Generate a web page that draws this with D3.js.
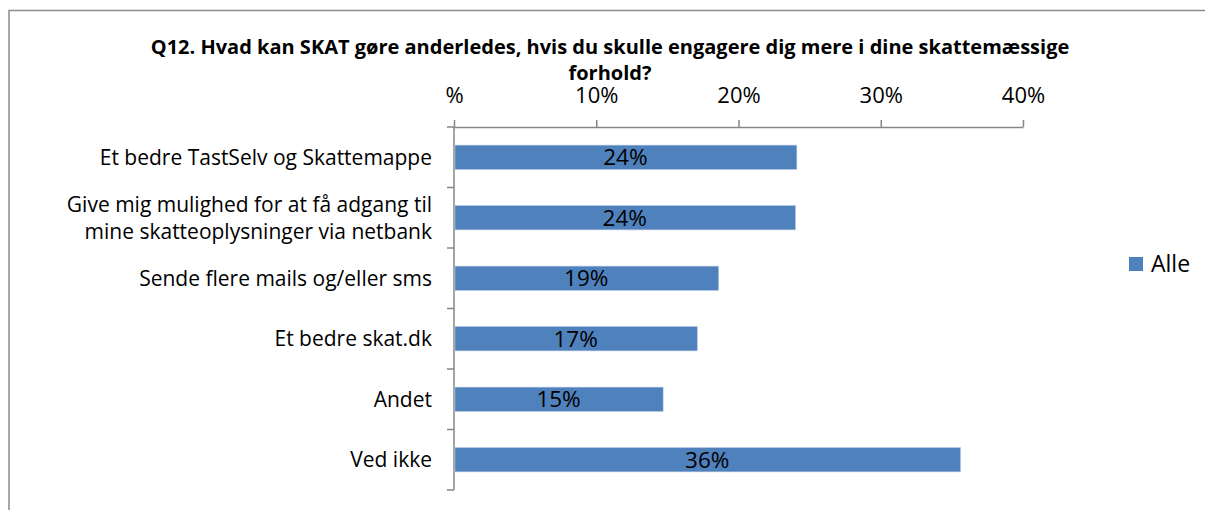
<!DOCTYPE html>
<html>
<head>
<meta charset="utf-8">
<script src="https://cdn.jsdelivr.net/npm/d3@7/dist/d3.min.js"></script>
<style>
  html, body { margin: 0; padding: 0; background: #fff; }
  svg { display: block; font-family: "Open Sans", Lato, sans-serif; }
</style>
</head>
<body>
<svg id="chart" width="1205" height="510"></svg>
<script>
const titleLines = ["Q12. Hvad kan SKAT gøre anderledes, hvis du skulle engagere dig mere i dine skattemæssige", "forhold?"];
const categories = [
  "Et bedre TastSelv og Skattemappe",
  "Give mig mulighed for at få adgang til mine skatteoplysninger via netbank",
  "Sende flere mails og/eller sms",
  "Et bedre skat.dk",
  "Andet",
  "Ved ikke"
];
const categoryLines = [
  ["Et bedre TastSelv og Skattemappe"],
  ["Give mig mulighed for at få adgang til", "mine skatteoplysninger via netbank"],
  ["Sende flere mails og/eller sms"],
  ["Et bedre skat.dk"],
  ["Andet"],
  ["Ved ikke"]
];
const values = [24.1, 24.0, 18.6, 17.1, 14.7, 35.6];
const valueLabels = ["24%", "24%", "19%", "17%", "15%", "36%"];
const tickValues = [0, 10, 20, 30, 40];
const tickLabels = ["%", "10%", "20%", "30%", "40%"];
const seriesName = "Alle";

const svg = d3.select("#chart");
const barColor = "#4F81BD";
const axisColor = "#868686";

// chart frame
svg.append("rect")
  .attr("x", 9).attr("y", 10.5)
  .attr("width", 1260).attr("height", 560)
  .attr("fill", "none").attr("stroke", "#8c8c8c").attr("stroke-width", 1.5);

// title
const title = svg.append("text")
  .attr("x", 610).attr("y", 54)
  .attr("text-anchor", "middle")
  .attr("font-weight", "bold")
  .attr("font-size", 20)
  .attr("fill", "#000");
title.selectAll("tspan").data(titleLines).join("tspan")
  .attr("x", 610)
  .attr("dy", (d, i) => i === 0 ? 0 : 26)
  .text(d => d);

const x = d3.scaleLinear().domain([0, 40]).range([454, 1023]);
const y = d3.scaleBand().domain(categories).range([127, 490])
  .paddingInner(0.6).paddingOuter(0.3);

// top axis
const xAxis = d3.axisTop(x)
  .tickValues(tickValues)
  .tickFormat((d, i) => tickLabels[i])
  .tickSizeInner(7).tickSizeOuter(0).tickPadding(17);
const gx = svg.append("g").attr("transform", `translate(0,${y.range()[0]})`).call(xAxis);
gx.select(".domain").attr("stroke", axisColor).attr("stroke-width", 1.5);
gx.selectAll(".tick line").attr("stroke", axisColor).attr("stroke-width", 1.5);
gx.selectAll(".tick text").attr("font-size", 22).attr("fill", "#000")
  .attr("font-family", "'Open Sans', sans-serif");

// left axis: line + ticks at band boundaries
const y0 = y.range()[0], y1 = y.range()[1];
svg.append("line")
  .attr("x1", x(0)).attr("x2", x(0)).attr("y1", y0).attr("y2", y1)
  .attr("stroke", axisColor).attr("stroke-width", 1.5);
const boundaries = d3.range(categories.length + 1).map(i => y0 + i * y.step());
svg.selectAll("line.ytick").data(boundaries).join("line")
  .attr("class", "ytick")
  .attr("x1", x(0) - 7).attr("x2", x(0))
  .attr("y1", d => d).attr("y2", d => d)
  .attr("stroke", axisColor).attr("stroke-width", 1.5);

// category labels
const catG = svg.append("g");
categories.forEach((c, i) => {
  const lines = categoryLines[i];
  const cy = y(c) + y.bandwidth() / 2;
  const lh = 27;
  const t = catG.append("text")
    .attr("text-anchor", "end")
    .attr("font-size", 21)
    .attr("fill", "#000");
  lines.forEach((l, j) => {
    t.append("tspan")
      .attr("x", x(0) - 22)
      .attr("y", cy + (j - (lines.length - 1) / 2) * lh)
      .attr("dy", "0.35em")
      .text(l);
  });
});

// bars
svg.selectAll("rect.bar").data(values).join("rect")
  .attr("class", "bar")
  .attr("x", x(0) + 1)
  .attr("y", (d, i) => y(categories[i]))
  .attr("width", d => x(d) - x(0) - 1)
  .attr("height", y.bandwidth())
  .attr("fill", barColor)
  .attr("stroke", "#a9c0e0").attr("stroke-width", 0.6);

// value labels
svg.selectAll("text.val").data(values).join("text")
  .attr("class", "val")
  .attr("x", d => (x(0) + x(d)) / 2)
  .attr("y", (d, i) => y(categories[i]) + y.bandwidth() / 2)
  .attr("dy", "0.36em")
  .attr("text-anchor", "middle")
  .attr("font-size", 22.5)
  .attr("fill", "#000")
  .text((d, i) => valueLabels[i]);

// legend
const lg = svg.append("g").attr("transform", "translate(1129,257)");
lg.append("rect").attr("width", 14).attr("height", 14).attr("fill", barColor);
lg.append("text").attr("x", 22).attr("y", 7).attr("dy", "0.36em")
  .attr("font-size", 23).attr("fill", "#000").text(seriesName);
</script>
</body>
</html>
